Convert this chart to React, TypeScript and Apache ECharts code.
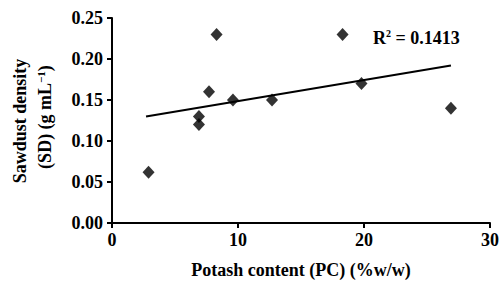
import React, { useEffect, useRef } from "react";
import * as echarts from "echarts";

const potash = [2.9, 6.9, 6.9, 7.7, 8.3, 9.6, 12.7, 18.3, 19.8, 26.9];
const density = [0.062, 0.13, 0.12, 0.16, 0.23, 0.15, 0.15, 0.23, 0.17, 0.14];
const trendX = [2.7, 26.9];
const trendY = [0.130, 0.192];
const xTicks = [0, 10, 20, 30];
const yTicks = [0, 0.05, 0.1, 0.15, 0.2, 0.25];
const r2Text = "0.1413";

const FONT = "Times New Roman, Liberation Serif, DejaVu Serif, serif";

export default function App() {
  const ref = useRef<HTMLDivElement>(null);
  useEffect(() => {
    if (!ref.current) return;
    const chart = echarts.init(ref.current, null, { renderer: "svg" });
    const axisCommon = {
      axisLine: { show: true, onZero: false, lineStyle: { color: "#000", width: 2 } },
      axisTick: { show: true, inside: false, length: 5, lineStyle: { color: "#000", width: 2 } },
      splitLine: { show: false },
    };
    const txt = { color: "#000", fontFamily: FONT, fontWeight: "bold" as const, fontSize: 18 };
    chart.setOption({
      animation: false,
      backgroundColor: "#fff",
      textStyle: { fontFamily: FONT },
      grid: { left: 112, right: 10, top: 18, bottom: 64, containLabel: false },
      xAxis: {
        type: "value",
        min: xTicks[0],
        max: xTicks[xTicks.length - 1],
        interval: 10,
        ...axisCommon,
        axisLabel: { margin: 8, ...txt },
        name: "Potash content (PC) (%w/w)",
        nameLocation: "middle",
        nameGap: 38,
        nameTextStyle: txt,
      },
      yAxis: {
        type: "value",
        min: yTicks[0],
        max: yTicks[yTicks.length - 1],
        interval: 0.05,
        ...axisCommon,
        axisLabel: {
          margin: 9,
          ...txt,
          formatter: (v: number) => v.toFixed(2),
        },
      },
      graphic: [
        {
          type: "text",
          x: 20,
          y: 121,
          rotation: Math.PI / 2,
          style: {
            text: "Sawdust density",
            fill: "#000",
            fontFamily: FONT,
            fontWeight: "bold",
            fontSize: 18,
            align: "center",
            verticalAlign: "middle",
          },
        },
        {
          type: "text",
          x: 45,
          y: 117,
          rotation: Math.PI / 2,
          style: {
            text: "{a|(SD) (g mL}{s|−1}{a|)}",
            fill: "#000",
            fontFamily: FONT,
            fontWeight: "bold",
            fontSize: 18,
            align: "center",
            verticalAlign: "middle",
            rich: {
              a: { fontFamily: FONT, fontWeight: "bold", fontSize: 18, fill: "#000" },
              s: { fontFamily: FONT, fontWeight: "bold", fontSize: 11, fill: "#000", padding: [0, 0, 9, 0] },
            },
          },
        },
        {
          type: "text",
          x: 373,
          y: 38,
          style: {
            text: "{a|R}{s|2}{a| = " + r2Text + "}",
            fill: "#000",
            fontFamily: FONT,
            fontWeight: "bold",
            fontSize: 18,
            align: "left",
            verticalAlign: "middle",
            rich: {
              a: { fontFamily: FONT, fontWeight: "bold", fontSize: 18, fill: "#000" },
              s: { fontFamily: FONT, fontWeight: "bold", fontSize: 10, fill: "#000", padding: [0, 0, 9, 0] },
            },
          },
        },
      ],
      series: [
        {
          type: "scatter",
          data: potash.map((x, i) => [x, density[i]]),
          symbol: "diamond",
          symbolSize: [12, 13],
          itemStyle: { color: "#000" },
          z: 3,
        },
        {
          type: "line",
          data: trendX.map((x, i) => [x, trendY[i]]),
          symbol: "none",
          lineStyle: { color: "#000", width: 2 },
          z: 2,
        },
      ],
    });
    return () => chart.dispose();
  }, []);
  return <div ref={ref} style={{ width: 502, height: 287, position: "absolute", left: 0, top: 0 }} />;
}
